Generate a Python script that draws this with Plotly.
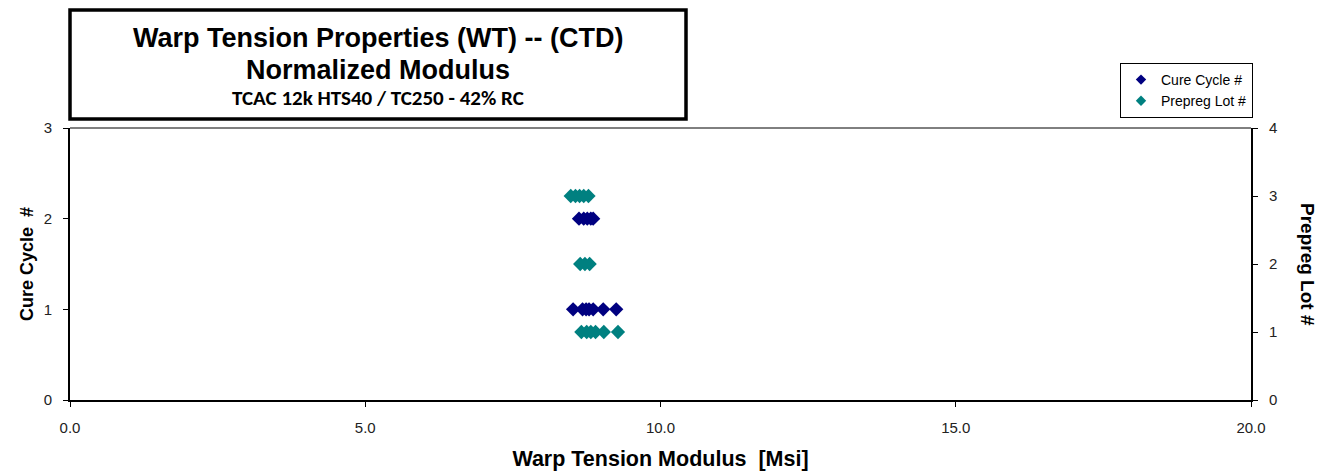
import plotly.graph_objects as go

# Modulus values (Msi), grouped by cure cycle / prepreg lot
cycle_1 = [8.52, 8.68, 8.74, 8.79, 8.86, 9.03, 9.25]
cycle_2 = [8.62, 8.70, 8.76, 8.82, 8.86]
lot_1 = [8.66, 8.75, 8.82, 8.90, 9.04, 9.28]
lot_2 = [8.64, 8.72, 8.80]
lot_3 = [8.48, 8.56, 8.63, 8.70, 8.78]

cycle_x = cycle_1 + cycle_2
cycle_y = [1] * len(cycle_1) + [2] * len(cycle_2)
lot_x = lot_1 + lot_2 + lot_3
lot_y = [1] * len(lot_1) + [2] * len(lot_2) + [3] * len(lot_3)

x_ticks = [0, 5, 10, 15, 20]

NAVY = "#000080"
TEAL = "#008080"

fig = go.Figure()

fig.add_trace(go.Scatter(
    x=cycle_x, y=cycle_y, mode="markers", name="Cure Cycle #", showlegend=False,
    marker=dict(symbol="diamond", size=11, color=NAVY, line=dict(width=0)),
    yaxis="y",
))
fig.add_trace(go.Scatter(
    x=lot_x, y=lot_y, mode="markers", name="Prepreg Lot #", showlegend=False,
    marker=dict(symbol="diamond", size=11, color=TEAL, line=dict(width=0)),
    yaxis="y2",
))
# legend entries with the smaller markers the original legend uses
for name, col in [("Cure Cycle #", NAVY), ("Prepreg Lot #", TEAL)]:
    fig.add_trace(go.Scatter(
        x=[None], y=[None], mode="markers", name=name,
        marker=dict(symbol="diamond", size=8, color=col, line=dict(width=0)),
    ))

axis_font = dict(family="Arial, Liberation Sans, sans-serif", size=15, color="#222")

# page body has an 8px margin, so the plot area is placed with that in mind
fig.update_layout(
    width=1323, height=476,
    margin=dict(l=62, r=80, t=120, b=84),
    paper_bgcolor="white", plot_bgcolor="white",
    font=dict(family="Arial, Liberation Sans, sans-serif", color="black"),
    xaxis=dict(
        range=[0, 20], tickvals=x_ticks, ticktext=[f"{v:.1f}" for v in x_ticks],
        showgrid=False, zeroline=False, showline=True, linecolor="black", linewidth=2,
        ticks="outside", ticklen=5, tickcolor="black", tickfont=axis_font,
        ticklabelstandoff=8,
        title=dict(text="<b>Warp Tension Modulus  [Msi]</b>", font=dict(size=21.5), standoff=16),
    ),
    yaxis=dict(
        range=[0, 3], dtick=1, showgrid=False, zeroline=False,
        showline=True, linecolor="black", linewidth=2,
        ticks="outside", ticklen=5, tickcolor="black", tickfont=axis_font,
        ticklabelstandoff=8,
        title=dict(text="<b>Cure Cycle  #</b>", font=dict(size=18), standoff=5),
    ),
    yaxis2=dict(
        range=[0, 4], dtick=1, overlaying="y", side="right", showgrid=False,
        zeroline=False, showline=True, linecolor="black", linewidth=2,
        ticks="outside", ticklen=5, tickcolor="black", tickfont=axis_font,
        ticklabelstandoff=8,
    ),
    legend=dict(
        x=(1120 - 70) / 1181, y=(400 - 63) / 272, xanchor="left", yanchor="top",
        bordercolor="black", borderwidth=1, bgcolor="white",
        font=dict(family="Arial, Liberation Sans, sans-serif", size=14),
        itemwidth=30, tracegroupgap=8,
    ),
    showlegend=True,
)

# thin top border of the plot area
fig.add_shape(type="line", xref="paper", yref="paper", x0=0, x1=1, y0=1, y1=1,
              line=dict(color="black", width=1))

# title box (top edge kept inside the figure div)
fig.add_shape(type="rect", xref="paper", yref="paper",
              x0=0.0, x1=(686 - 70) / 1181, y0=(400 - 119) / 272, y1=(400 - 10) / 272,
              line=dict(color="black", width=3.5), fillcolor="white")

title_cx = (378 - 70) / 1181
narrow = "Liberation Sans Narrow, Arial Narrow, Arial, sans-serif"
fig.add_annotation(xref="paper", yref="paper", x=title_cx, y=(400 - 38) / 272,
                   xanchor="center", yanchor="middle",
                   text="<b>Warp Tension Properties (WT) -- (CTD)</b>", showarrow=False,
                   font=dict(family=narrow, size=27, color="black"))
fig.add_annotation(xref="paper", yref="paper", x=title_cx, y=(400 - 70) / 272,
                   xanchor="center", yanchor="middle",
                   text="<b>Normalized Modulus</b>", showarrow=False,
                   font=dict(family=narrow, size=27, color="black"))
fig.add_annotation(xref="paper", yref="paper", x=title_cx, y=(400 - 98) / 272,
                   xanchor="center", yanchor="middle",
                   text="<b>TCAC 12k HTS40 / TC250 - 42% RC</b>", showarrow=False,
                   font=dict(family="Carlito, Lato, Calibri, sans-serif", size=21, color="black"))

# right axis title reads top to bottom
fig.add_annotation(xref="paper", yref="paper", x=(1308 - 70) / 1181, y=(400 - 264) / 272,
                   xanchor="center", yanchor="middle",
                   text="<b>Prepreg Lot #</b>", showarrow=False, textangle=90,
                   font=dict(size=19, color="black"))

fig.write_html("out.html")
